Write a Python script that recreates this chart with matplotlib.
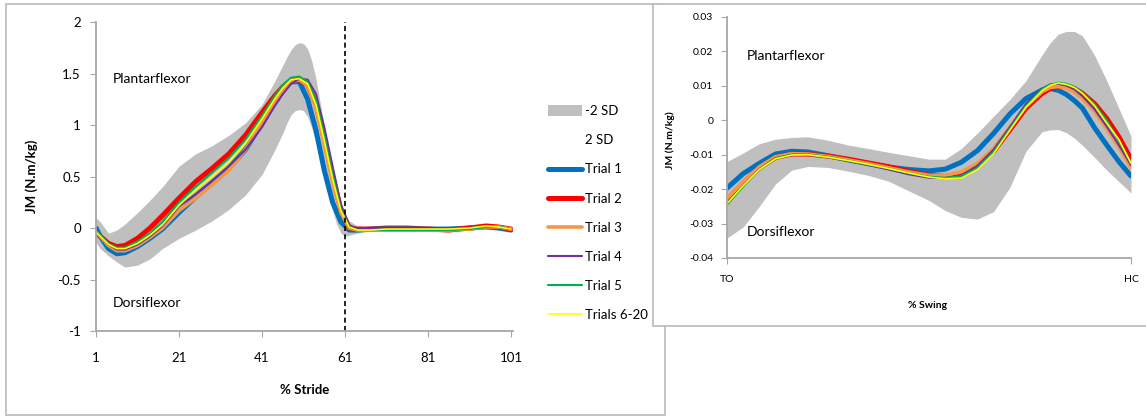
import matplotlib.pyplot as plt
from matplotlib.patches import Rectangle, Patch
from matplotlib.lines import Line2D

plt.rcParams['font.family'] = ['Lato', 'DejaVu Sans']

# ---- left chart: whole stride ----
stride = [1, 2, 4, 6, 8, 11, 14, 17, 21, 25, 29, 33, 37, 41, 44, 46, 48, 50, 52,
          54, 56, 58, 60, 62, 64, 67, 71, 76, 81, 86, 91, 95, 98, 101]
band_x = [1, 2, 4, 6, 8, 11, 14, 17, 21, 25, 29, 33, 37, 41, 44, 46, 47, 48, 49, 50, 51,
          52, 53, 54, 55, 56, 57, 58, 59, 60, 61, 62, 64, 67, 71, 76, 81, 86, 91, 95, 98, 101]
sd_hi = [0.1, 0.06, -0.05, -0.02, 0.04, 0.15, 0.27, 0.4, 0.6, 0.72, 0.8, 0.9, 1.02, 1.2,
         1.42, 1.58, 1.66, 1.73, 1.78, 1.8, 1.79, 1.74, 1.62, 1.45, 1.22, 0.98, 0.74, 0.55,
         0.38, 0.24, 0.13, 0.07, 0.02, 0.01, 0.01, 0.01, 0.01, 0.01, 0.02, 0.04, 0.03, 0.01]
sd_lo = [-0.14, -0.2, -0.27, -0.33, -0.38, -0.36, -0.3, -0.2, -0.1, -0.02, 0.07, 0.18, 0.32,
         0.52, 0.75, 0.92, 1.02, 1.1, 1.14, 1.15, 1.14, 1.08, 0.97, 0.83, 0.67, 0.5, 0.33,
         0.17, 0.04, -0.05, -0.08, -0.07, -0.05, -0.03, -0.03, -0.03, -0.03, -0.03, -0.02,
         0.0, -0.01, -0.03]
trial1 = [0.0, -0.08, -0.2, -0.25, -0.24, -0.18, -0.1, -0.01, 0.15, 0.3, 0.44, 0.58, 0.76,
          1.02, 1.23, 1.34, 1.42, 1.42, 1.25, 0.95, 0.56, 0.25, 0.06, -0.02, -0.02, -0.01,
          0.0, 0.0, -0.01, -0.01, 0.0, 0.01, 0.0, -0.02]
trial2 = [-0.05, -0.08, -0.15, -0.18, -0.17, -0.1, 0.0, 0.12, 0.29, 0.45, 0.58, 0.72, 0.9,
          1.12, 1.28, 1.37, 1.43, 1.44, 1.39, 1.2, 0.87, 0.5, 0.18, 0.0, -0.01, -0.01, -0.01,
          -0.01, -0.01, -0.02, 0.0, 0.02, 0.01, -0.01]
trial3 = [-0.04, -0.08, -0.17, -0.22, -0.22, -0.17, -0.09, 0.0, 0.17, 0.29, 0.42, 0.56, 0.76,
          1.03, 1.22, 1.33, 1.42, 1.44, 1.38, 1.17, 0.82, 0.45, 0.15, 0.0, -0.02, -0.02,
          -0.02, -0.02, -0.02, -0.02, -0.01, 0.01, 0.01, -0.01]
trial4 = [-0.04, -0.08, -0.16, -0.21, -0.21, -0.16, -0.08, 0.02, 0.21, 0.33, 0.46, 0.6, 0.76,
          0.98, 1.18, 1.3, 1.4, 1.45, 1.44, 1.3, 0.98, 0.6, 0.23, 0.03, -0.01, -0.01, -0.01,
          -0.01, -0.01, -0.01, 0.0, 0.02, 0.01, -0.01]
trial5 = [-0.04, -0.07, -0.15, -0.19, -0.19, -0.13, -0.05, 0.06, 0.25, 0.4, 0.54, 0.68, 0.86,
          1.09, 1.28, 1.39, 1.46, 1.47, 1.42, 1.24, 0.9, 0.52, 0.18, 0.01, -0.02, -0.02,
          -0.02, -0.02, -0.02, -0.02, -0.01, 0.01, 0.01, -0.01]
trials6_20 = [-0.04, -0.08, -0.16, -0.2, -0.2, -0.15, -0.07, 0.03, 0.22, 0.37, 0.5, 0.64, 0.82,
              1.06, 1.25, 1.36, 1.44, 1.45, 1.4, 1.2, 0.85, 0.48, 0.17, 0.01, -0.02, -0.02,
              -0.01, -0.01, -0.01, -0.01, 0.0, 0.02, 0.01, -0.01]
stride_ticks = [1, 21, 41, 61, 81, 101]
stride_yticks = [-1, -0.5, 0, 0.5, 1, 1.5, 2]
stride_ylabels = ['-1', '-0.5', '0', '0.5', '1', '1.5', '2']

# ---- right chart: swing phase ----
swing = [0, 4, 8, 12, 16, 20, 25, 30, 35, 40, 45, 50, 54, 58, 62, 66, 70, 74, 78, 80, 82,
         84, 86, 88, 91, 94, 97, 100]
sw_hi = [-0.012, -0.0095, -0.0068, -0.0055, -0.005, -0.0048, -0.0058, -0.0072, -0.0082,
         -0.0093, -0.0103, -0.0113, -0.0113, -0.0082, -0.0037, 0.0012, 0.006, 0.0115, 0.019,
         0.0225, 0.025, 0.0258, 0.0258, 0.0245, 0.0188, 0.0115, 0.0035, -0.0046]
sw_lo = [-0.0342, -0.031, -0.025, -0.0185, -0.0145, -0.0134, -0.0137, -0.0148, -0.016,
         -0.0177, -0.0205, -0.0233, -0.0262, -0.0282, -0.0287, -0.0265, -0.0195, -0.009,
         -0.0033, -0.0028, -0.0027, -0.0036, -0.0052, -0.0073, -0.0108, -0.0145, -0.0178,
         -0.0211]
sw1 = [-0.0197, -0.0155, -0.0125, -0.0098, -0.009, -0.0092, -0.0103, -0.0115, -0.0126,
       -0.0136, -0.0143, -0.0147, -0.0142, -0.0122, -0.0088, -0.0038, 0.0018, 0.0063,
       0.0088, 0.0092, 0.0087, 0.0075, 0.0057, 0.0035, -0.0022, -0.0072, -0.012, -0.0162]
sw2 = [-0.0232, -0.0182, -0.0138, -0.0108, -0.0098, -0.0098, -0.0104, -0.0113, -0.0124,
       -0.0135, -0.0148, -0.016, -0.0163, -0.0158, -0.0133, -0.009, -0.0028, 0.0035, 0.0078,
       0.0092, 0.0099, 0.0098, 0.0092, 0.0078, 0.0048, 0.0005, -0.0048, -0.0113]
sw3 = [-0.0228, -0.0178, -0.0135, -0.0106, -0.0097, -0.0098, -0.0105, -0.0115, -0.0126,
       -0.0138, -0.015, -0.016, -0.016, -0.015, -0.0125, -0.0082, -0.002, 0.004, 0.0083,
       0.0095, 0.0098, 0.0093, 0.0082, 0.0063, 0.0025, -0.0025, -0.0078, -0.0138]
sw4 = [-0.024, -0.019, -0.0142, -0.011, -0.01, -0.01, -0.0107, -0.0118, -0.013, -0.0143,
       -0.0157, -0.0167, -0.0168, -0.016, -0.0132, -0.0085, -0.002, 0.0048, 0.0092, 0.0104,
       0.0106, 0.0101, 0.009, 0.007, 0.0032, -0.0018, -0.0072, -0.013]
sw5 = [-0.0245, -0.0192, -0.0143, -0.011, -0.01, -0.0099, -0.0106, -0.0117, -0.0128,
       -0.014, -0.0153, -0.0164, -0.0167, -0.0163, -0.0138, -0.0092, -0.0025, 0.0042, 0.009,
       0.0103, 0.0109, 0.0106, 0.0097, 0.0081, 0.0047, 0.0, -0.006, -0.0123]
sw6_20 = [-0.0242, -0.019, -0.0143, -0.0112, -0.0101, -0.01, -0.0107, -0.0117, -0.0128,
          -0.014, -0.0153, -0.0165, -0.017, -0.0168, -0.0143, -0.0097, -0.0029, 0.0038,
          0.0086, 0.0101, 0.0108, 0.0104, 0.0095, 0.0078, 0.0042, -0.0008, -0.0056, -0.0125]
swing_ticks = [0, 100]
swing_labels = ['TO', 'HC']
swing_yticks = [-0.04, -0.03, -0.02, -0.01, 0, 0.01, 0.02, 0.03]
swing_ylabels = ['-0.04', '-0.03', '-0.02', '-0.01', '0', '0.01', '0.02', '0.03']

band_color = '#bfbfbf'
styles = [('Trial 1', '#0070c0', 3.6), ('Trial 2', '#ff0000', 3.6), ('Trial 3', '#f79646', 2.6),
          ('Trial 4', '#7030a0', 1.5), ('Trial 5', '#00b050', 1.5), ('Trials 6-20', '#ffff00', 1.2)]
spine_col = '#a6a6a6'

fig = plt.figure(figsize=(11.46, 4.17), dpi=100)

# panel frames (right one overlaps the left one)
fig.add_artist(Rectangle((0.0052, 0.005), 0.575, 0.9856, transform=fig.transFigure,
                         facecolor='white', edgecolor='#bfbfbf', lw=1.3, zorder=-2))
fig.add_artist(Rectangle((0.5698, 0.2182), 0.45, 0.772, transform=fig.transFigure,
                         facecolor='white', edgecolor='#bfbfbf', lw=1.3, zorder=-1))


def style_axes(ax):
    for s in ['top', 'right']:
        ax.spines[s].set_visible(False)
    for s in ['left', 'bottom']:
        ax.spines[s].set_color(spine_col)
        ax.spines[s].set_linewidth(1.3)
    ax.set_facecolor('none')


# ---- left ----
ax = fig.add_axes([0.0838, 0.2062, 0.3639, 0.741])
style_axes(ax)
ax.fill_between(band_x, sd_lo, sd_hi, color=band_color, lw=0)
left_series = [trial1, trial2, trial3, trial4, trial5, trials6_20]
for (lab, col, lw), ys in zip(styles, left_series):
    ax.plot(stride, ys, color=col, lw=lw, solid_capstyle='round')
ax.axvline(61, color='black', lw=1.2, linestyle=(0, (3, 2)))
ax.set_xlim(1, 101.5)
ax.set_ylim(-1, 2)
ax.set_xticks(stride_ticks)
ax.set_yticks(stride_yticks)
ax.set_yticklabels(stride_ylabels)
ax.tick_params(axis='x', length=4, color=spine_col, pad=11, labelsize=9.5)
ax.tick_params(axis='y', length=4, color=spine_col, pad=7, labelsize=9.5)
ax.set_xlabel('% Stride', fontsize=9.5, fontweight='bold')
ax.xaxis.set_label_coords(0.5, -0.17)
ax.set_ylabel('JM (N.m/kg)', fontsize=9.5, fontweight='bold')
ax.yaxis.set_label_coords(-0.139, 0.5)
ax.text(5, 1.45, 'Plantarflexor', fontsize=10, va='center')
ax.text(5, -0.73, 'Dorsiflexor', fontsize=10, va='center')

handles = [Patch(facecolor=band_color, edgecolor='none'),
           Patch(facecolor='none', edgecolor='none')]
labels = ['-2 SD', '2 SD']
for lab, col, lw in styles:
    handles.append(Line2D([], [], color=col, lw=lw, solid_capstyle='round'))
    labels.append(lab)
fig.legend(handles, labels, loc='upper left', bbox_to_anchor=(0.478, 0.748),
           frameon=False, fontsize=9.5, handlelength=2.6, handleheight=0.8,
           handletextpad=0.25, labelspacing=1.3, borderpad=0, borderaxespad=0)

# ---- right ----
ax2 = fig.add_axes([0.6344, 0.3813, 0.3525, 0.578])
style_axes(ax2)
ax2.fill_between(swing, sw_lo, sw_hi, color=band_color, lw=0)
right_series = [sw1, sw2, sw3, sw4, sw5, sw6_20]
for (lab, col, lw), ys in zip(styles, right_series):
    ax2.plot(swing, ys, color=col, lw=lw, solid_capstyle='round')
ax2.set_xlim(0, 100)
ax2.set_ylim(-0.04, 0.03)
ax2.set_xticks(swing_ticks)
ax2.set_xticklabels(swing_labels)
ax2.set_yticks(swing_yticks)
ax2.set_yticklabels(swing_ylabels)
ax2.tick_params(axis='x', length=4, color=spine_col, pad=8, labelsize=7.5)
ax2.tick_params(axis='y', length=4, color=spine_col, pad=6, labelsize=7.5)
ax2.set_xlabel('% Swing', fontsize=7.5, fontweight='bold')
ax2.xaxis.set_label_coords(0.4975, -0.18)
ax2.set_ylabel('JM (N.m/kg)', fontsize=7.5, fontweight='bold')
ax2.yaxis.set_label_coords(-0.129, 0.49)
ax2.text(5, 0.0188, 'Plantarflexor', fontsize=10, va='center')
ax2.text(5, -0.0324, 'Dorsiflexor', fontsize=10, va='center')

fig.savefig('out.png', dpi=100)
